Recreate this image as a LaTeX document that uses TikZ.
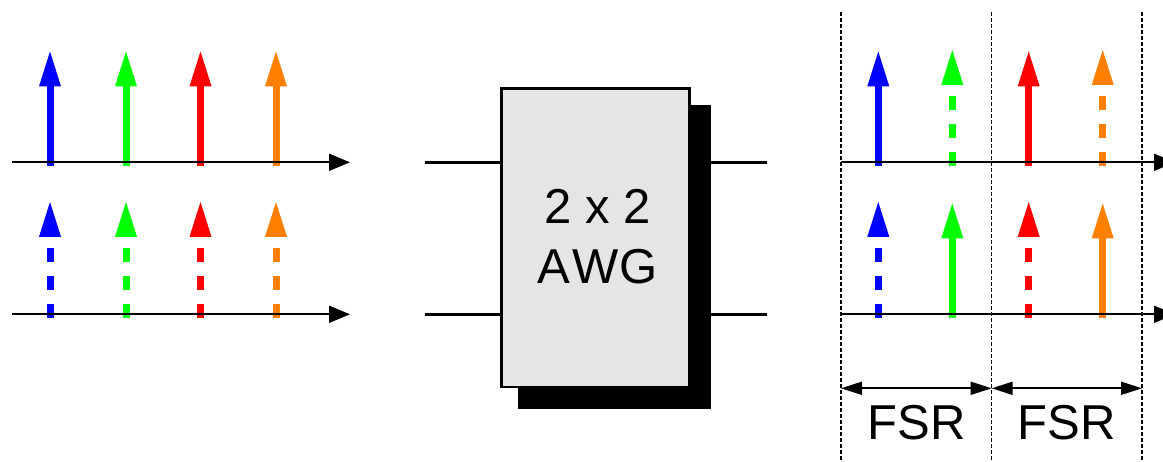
\documentclass[tikz,border=0pt]{standalone}
\usepackage{fontspec}
\setmainfont{Liberation Sans}
\usetikzlibrary{arrows.meta}
\definecolor{sblue}{RGB}{0,0,255}
\definecolor{sgreen}{RGB}{0,255,0}
\definecolor{sred}{RGB}{255,0,0}
\definecolor{sorange}{RGB}{255,128,0}
\definecolor{boxgray}{RGB}{229,229,229}
% solid spectral line: colour, x, axis y
\newcommand{\sigsolid}[3]{%
  \fill[#1] (#2-11,#3-76) -- (#2,#3-110.8) -- (#2+11,#3-76) -- cycle;
  \draw[#1, line width=7pt] (#2,#3+3.7) -- (#2,#3-76.5);}
% dashed spectral line
\newcommand{\sigdashed}[3]{%
  \fill[#1] (#2-11,#3-77.5) -- (#2,#3-112.3) -- (#2+11,#3-77.5) -- cycle;
  \draw[#1, line width=7pt, dash pattern=on 14.3pt off 13.5pt] (#2,#3+3.7) -- (#2,#3-66.6);}
\begin{document}
\begin{tikzpicture}[x=1pt,y=-1pt,
  axis/.style={line width=1.8pt, -{Triangle[length=21pt,width=17pt]}},
  port/.style={line width=2.5pt},
  fsrdash/.style={line width=1.4pt, dash pattern=on 4pt off 2pt},
  fsrarrow/.style={line width=1.8pt, {Triangle[length=21pt,width=13pt]}-{Triangle[length=21pt,width=13pt]}},
  bigtext/.style={font=\fontsize{49}{58}\selectfont, inner sep=0pt}]
\useasboundingbox (0,0) rectangle (1163,462);
% ---------- left spectra ----------
\coordinate (la1) at (12,162.3);
\coordinate (lb1) at (350,162.3);
\coordinate (la2) at (12,314.3);
\coordinate (lb2) at (350,314.3);
\sigsolid{sblue}{50}{162.3}
\sigsolid{sgreen}{126}{162.3}
\sigsolid{sred}{200.5}{162.3}
\sigsolid{sorange}{276}{162.3}
\sigdashed{sblue}{50}{314.3}
\sigdashed{sgreen}{126}{314.3}
\sigdashed{sred}{200.5}{314.3}
\sigdashed{sorange}{276}{314.3}
\draw[axis] (la1) -- (lb1);
\draw[axis] (la2) -- (lb2);
% ---------- AWG box ----------
\node[fill=black, inner sep=0pt, outer sep=0pt, minimum width=192.4pt, minimum height=304.3pt, anchor=north west] (shadow) at (518.3,105) {};
\node[draw, line width=2.5pt, fill=boxgray, minimum width=188.2pt, minimum height=298.5pt, anchor=north west] (awg) at (500,87.3) {};
\node[bigtext, anchor=base] (t1) at (598,224) {2 x 2};
\node[bigtext, anchor=base] (t2) at (598,283.3) {A\kern1.5pt W\kern1.5pt G};
\coordinate (in1) at (425,162.3);
\coordinate (in2) at (425,314.3);
\coordinate (out1) at (767,162.3);
\coordinate (out2) at (767,314.3);
\draw[port] (in1) -- (in1 -| awg.west);
\draw[port] (in2) -- (in2 -| awg.west);
\draw[port] (out1 -| shadow.east) -- (out1);
\draw[port] (out2 -| shadow.east) -- (out2);
% ---------- right spectra ----------
\coordinate (v1t) at (841,12);   \coordinate (v1b) at (841,462);
\coordinate (v2t) at (991.7,12); \coordinate (v2b) at (991.7,462);
\coordinate (v3t) at (1142,12);  \coordinate (v3b) at (1142,462);
\draw[fsrdash] (v1t) -- (v1b);
\draw[fsrdash] (v2t) -- (v2b);
\draw[fsrdash] (v3t) -- (v3b);
\coordinate (ra1) at (841,162.3);
\coordinate (rb1) at (1175,162.3);
\coordinate (ra2) at (841,314.3);
\coordinate (rb2) at (1175,314.3);
\sigsolid{sblue}{878.3}{162.3}
\sigdashed{sgreen}{952.3}{162.3}
\sigsolid{sred}{1028.7}{162.3}
\sigdashed{sorange}{1102.7}{162.3}
\sigdashed{sblue}{878.3}{314.3}
\sigsolid{sgreen}{952.3}{314.3}
\sigdashed{sred}{1028.7}{314.3}
\sigsolid{sorange}{1102.7}{314.3}
\draw[axis] (ra1) -- (rb1);
\draw[axis] (ra2) -- (rb2);
% FSR markers
\coordinate (f1) at (841,388.3);
\coordinate (f2) at (991.7,388.3);
\coordinate (f3) at (1142,388.3);
\draw[fsrarrow] (f1) -- (f2);
\draw[fsrarrow] (f2) -- (f3);
\node[bigtext, anchor=base] (fsr1) at (916.5,440) {FSR};
\node[bigtext, anchor=base] (fsr2) at (1066.8,440) {FSR};
\end{tikzpicture}
\end{document}
